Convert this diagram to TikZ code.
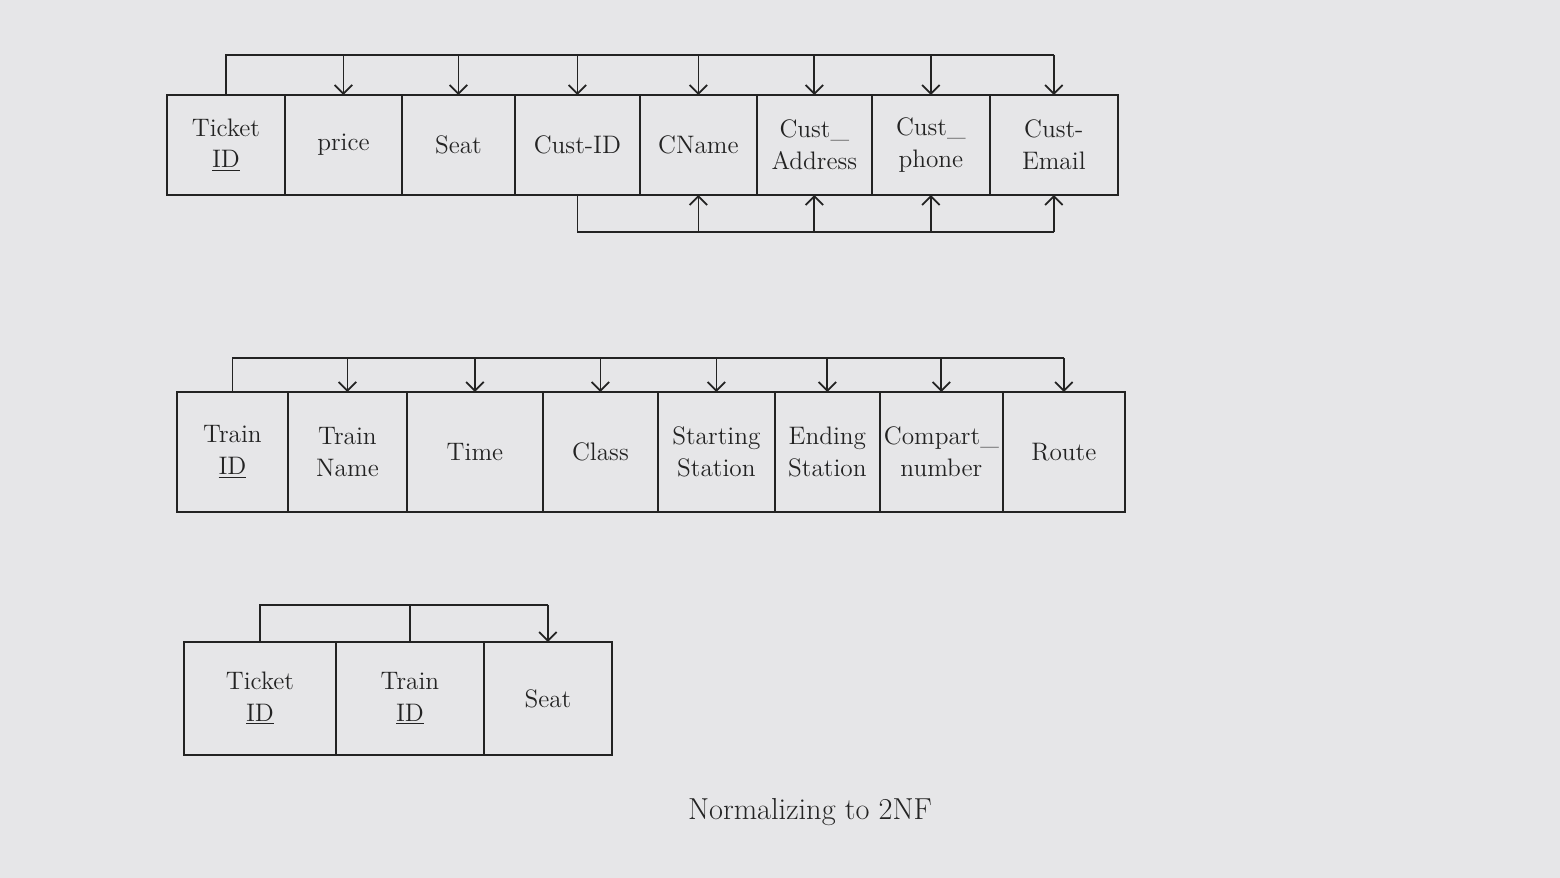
\documentclass[tikz,border=0pt]{standalone}
\usetikzlibrary{positioning,arrows.meta}

\definecolor{paper}{RGB}{230,230,232}
\definecolor{ink}{RGB}{35,35,35}

\tikzset{
  cell/.style={draw=ink, line width=1pt, anchor=north west, align=center,
               inner sep=0pt, outer sep=0pt, font=\Large, text=ink},
  link/.style={draw=ink, line width=1pt},
  arrow/.style={link, -{Straight Barb[length=5pt,width=10pt]}},
}

\begin{document}
\begin{tikzpicture}[x=0.02cm,y=-0.02cm]

    %paper
    \fill[paper] (0,0) rectangle (1560,878);
    \useasboundingbox (0,0) rectangle (1560,878);

    %ticket table
    \node[cell, minimum width=2.36cm, minimum height=2cm] (tkid) at (167,95) {Ticket\\\underline{ID}};
    \node[cell, minimum width=2.34cm, minimum height=2cm, right=0pt of tkid] (price) {price};
    \node[cell, minimum width=2.26cm, minimum height=2cm, right=0pt of price] (seat) {Seat};
    \node[cell, minimum width=2.50cm, minimum height=2cm, right=0pt of seat] (cid) {Cust-ID};
    \node[cell, minimum width=2.34cm, minimum height=2cm, right=0pt of cid] (cname) {CName};
    \node[cell, minimum width=2.30cm, minimum height=2cm, right=0pt of cname] (caddr) {Cust\_\\Address};
    \node[cell, minimum width=2.36cm, minimum height=2cm, right=0pt of caddr] (cphone) {Cust\_\\phone};
    \node[cell, minimum width=2.56cm, minimum height=2cm, right=0pt of cphone] (cmail) {Cust-\\Email};

    %dependencies on ticket id
    \coordinate (bus1) at (0,55);
    \draw[link] (tkid.north) -- (tkid.north |- bus1) -- (cmail.north |- bus1);
    \draw[arrow] (price.north |- bus1) -- (price.north);
    \draw[arrow] (seat.north |- bus1) -- (seat.north);
    \draw[arrow] (cid.north |- bus1) -- (cid.north);
    \draw[arrow] (cname.north |- bus1) -- (cname.north);
    \draw[arrow] (caddr.north |- bus1) -- (caddr.north);
    \draw[arrow] (cphone.north |- bus1) -- (cphone.north);
    \draw[arrow] (cmail.north |- bus1) -- (cmail.north);

    %dependencies on cust id
    \coordinate (low1) at (0,232);
    \draw[link] (cid.south) -- (cid.south |- low1) -- (cmail.south |- low1);
    \draw[arrow] (cname.south |- low1) -- (cname.south);
    \draw[arrow] (caddr.south |- low1) -- (caddr.south);
    \draw[arrow] (cphone.south |- low1) -- (cphone.south);
    \draw[arrow] (cmail.south |- low1) -- (cmail.south);

    %train table
    \node[cell, minimum width=2.22cm, minimum height=2.4cm] (trid) at (177,392) {Train\\\underline{ID}};
    \node[cell, minimum width=2.38cm, minimum height=2.4cm, right=0pt of trid] (trname) {Train\\Name};
    \node[cell, minimum width=2.72cm, minimum height=2.4cm, right=0pt of trname] (time) {Time};
    \node[cell, minimum width=2.30cm, minimum height=2.4cm, right=0pt of time] (class) {Class};
    \node[cell, minimum width=2.34cm, minimum height=2.4cm, right=0pt of class] (start) {Starting\\Station};
    \node[cell, minimum width=2.10cm, minimum height=2.4cm, right=0pt of start] (stop) {Ending\\Station};
    \node[cell, minimum width=2.46cm, minimum height=2.4cm, right=0pt of stop] (comp) {Compart\_\\number};
    \node[cell, minimum width=2.44cm, minimum height=2.4cm, right=0pt of comp] (route) {Route};

    %dependencies on train id
    \coordinate (bus2) at (0,358);
    \draw[link] (trid.north) -- (trid.north |- bus2) -- (route.north |- bus2);
    \draw[arrow] (trname.north |- bus2) -- (trname.north);
    \draw[arrow] (time.north |- bus2) -- (time.north);
    \draw[arrow] (class.north |- bus2) -- (class.north);
    \draw[arrow] (start.north |- bus2) -- (start.north);
    \draw[arrow] (stop.north |- bus2) -- (stop.north);
    \draw[arrow] (comp.north |- bus2) -- (comp.north);
    \draw[arrow] (route.north |- bus2) -- (route.north);

    %booking table
    \node[cell, minimum width=3.04cm, minimum height=2.26cm] (bktk) at (184,642) {Ticket\\\underline{ID}};
    \node[cell, minimum width=2.96cm, minimum height=2.26cm, right=0pt of bktk] (bktr) {Train\\\underline{ID}};
    \node[cell, minimum width=2.56cm, minimum height=2.26cm, right=0pt of bktr] (bkseat) {Seat};

    %dependency on both keys
    \coordinate (bus3) at (0,605);
    \draw[link] (bktk.north) -- (bktk.north |- bus3) -- (bkseat.north |- bus3);
    \draw[link] (bktr.north) -- (bktr.north |- bus3);
    \draw[arrow] (bkseat.north |- bus3) -- (bkseat.north);

    %caption
    \node[font=\LARGE, text=ink] (caption) at (810,812) {Normalizing to 2NF};

\end{tikzpicture}
\end{document}
